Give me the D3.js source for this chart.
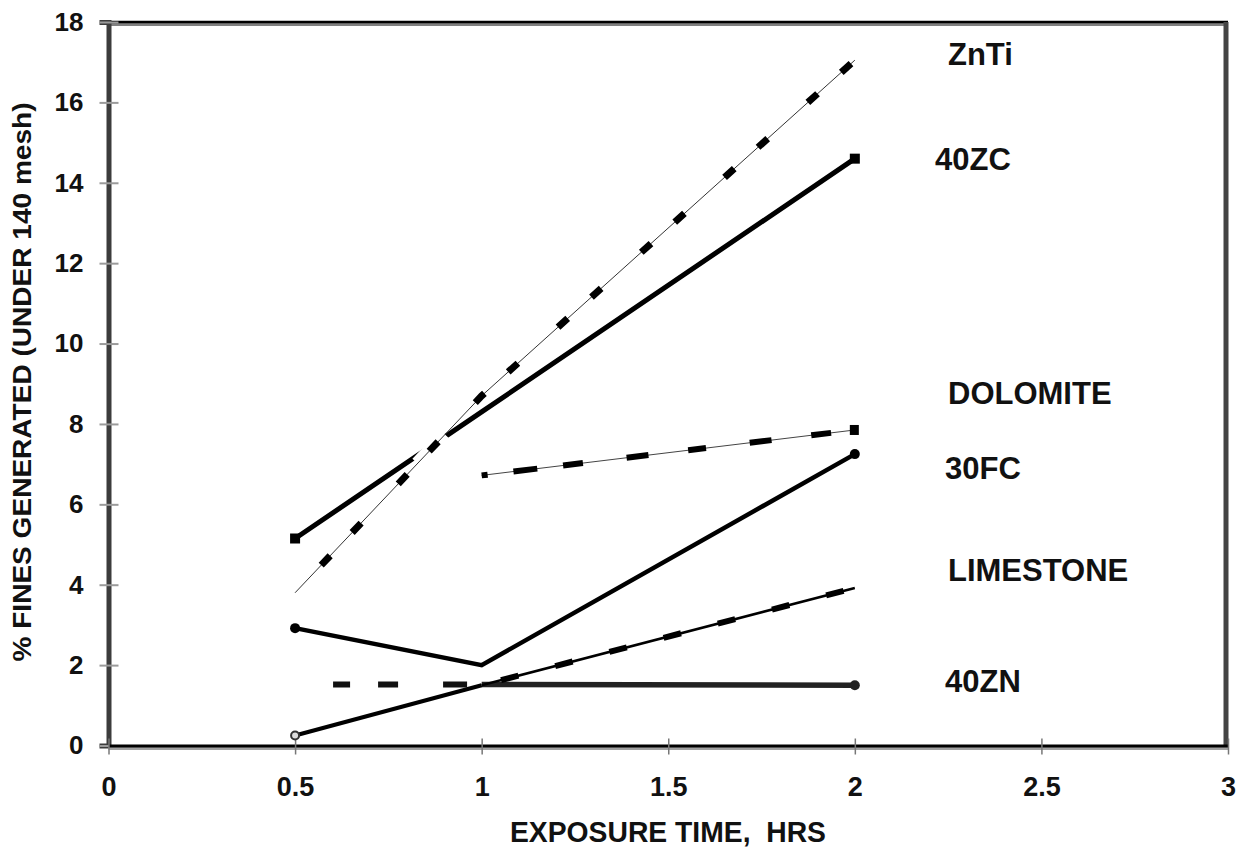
<!DOCTYPE html>
<html>
<head>
<meta charset="utf-8">
<script src="https://cdn.jsdelivr.net/npm/d3@7"></script>
<style>
  body { margin: 0; background: #fff; }
  text { font-family: "Liberation Sans", Arial, sans-serif; fill: #111; }
</style>
</head>
<body>
<script>
// values
var hours = [0.5, 1, 2];
var dolomiteHours = [1, 2];
var znti = [3.8, 8.7, 17.05];
var zc40 = [5.15, 8.3, 14.6];
var dolomite = [6.72, 7.85];
var fc30 = [2.92, 2.0, 7.25];
var limestone = [0.25, 1.5, 3.92];
var zn40 = [1.52, 1.52, 1.5];

var xTicks = [0, 0.5, 1, 1.5, 2, 2.5, 3];
var yTicks = [0, 2, 4, 6, 8, 10, 12, 14, 16, 18];
var seriesNames = ["ZnTi", "40ZC", "DOLOMITE", "30FC", "LIMESTONE", "40ZN"];

var width = 1242, height = 855;

var x = d3.scaleLinear().domain([0, 3]).range([108.5, 1228]);
var y = d3.scaleLinear().domain([0, 18]).range([745.5, 22]);

var svg = d3.select("body").append("svg")
    .attr("width", width)
    .attr("height", height);

var line = d3.line()
    .x(function (d) { return x(d[0]); })
    .y(function (d) { return y(d[1]); });

function pts(xs, ys) { return xs.map(function (v, i) { return [v, ys[i]]; }); }

// frame: top and right border
svg.append("line")
    .attr("x1", x(0)).attr("x2", x(3))
    .attr("y1", y(18) + 2.5).attr("y2", y(18) + 2.5)
    .attr("stroke", "#808080").attr("stroke-width", 3);
svg.append("line")
    .attr("x1", x(0)).attr("x2", x(3))
    .attr("y1", y(18)).attr("y2", y(18))
    .attr("stroke", "#000").attr("stroke-width", 2.5);
svg.append("line")
    .attr("x1", 1226).attr("x2", 1226)
    .attr("y1", y(18)).attr("y2", y(0))
    .attr("stroke", "#444").attr("stroke-width", 5);

// y axis
var yAxis = svg.append("g")
    .attr("transform", "translate(" + x(0) + ",0)")
    .call(d3.axisLeft(y).tickValues(yTicks).tickSize(9).tickPadding(16));
yAxis.select(".domain").attr("stroke", "#3c3c3c").attr("stroke-width", 5);
yAxis.selectAll(".tick line").attr("x1", 10).attr("stroke", "#9a9a9a").attr("stroke-width", 2);
yAxis.selectAll(".tick text")
    .style("font-family", "'Liberation Sans', Arial, sans-serif")
    .style("font-size", "26px").style("font-weight", "bold").attr("fill", "#111");

// x axis
var xAxis = svg.append("g")
    .attr("transform", "translate(0," + y(0) + ")")
    .call(d3.axisBottom(x).tickValues(xTicks).tickSize(9).tickSizeOuter(0).tickPadding(22)
        .tickFormat(function (d) { return String(d); }));
xAxis.select(".domain").attr("stroke", "#000").attr("stroke-width", 3);
xAxis.insert("line", ".domain")
    .attr("x1", x(0)).attr("x2", x(3)).attr("y1", 3).attr("y2", 3)
    .attr("stroke", "#a0a0a0").attr("stroke-width", 3);
xAxis.selectAll(".tick line").attr("y1", -7).attr("stroke", "#777").attr("stroke-width", 1.5);
xAxis.selectAll(".tick text")
    .style("font-family", "'Liberation Sans', Arial, sans-serif")
    .style("font-size", "27px").style("font-weight", "bold").attr("fill", "#111");

// axis titles
svg.append("text")
    .attr("x", 668).attr("y", 842)
    .attr("text-anchor", "middle")
    .style("white-space", "pre")
    .attr("textLength", 316).attr("lengthAdjust", "spacingAndGlyphs")
    .style("font-size", "29px").style("font-weight", "bold")
    .text("EXPOSURE TIME,  HRS");

svg.append("text")
    .attr("transform", "translate(31,382) rotate(-90)")
    .attr("text-anchor", "middle")
    .attr("textLength", 559).attr("lengthAdjust", "spacingAndGlyphs")
    .style("font-size", "26px").style("font-weight", "bold")
    .text("% FINES GENERATED (UNDER 140 mesh)");

var plot = svg.append("g");

// 40ZC solid with squares
var zcPts = pts(hours, zc40);
plot.append("path").datum(zcPts).attr("d", line)
    .attr("fill", "none").attr("stroke", "#000").attr("stroke-width", 5);
plot.selectAll(".zc").data([zcPts[0], zcPts[2]]).enter().append("rect")
    .attr("x", function (d) { return x(d[0]) - 5; })
    .attr("y", function (d) { return y(d[1]) - 5; })
    .attr("width", 10).attr("height", 10).attr("fill", "#000");

// 30FC solid with dots
var fcPts = pts(hours, fc30);
plot.append("path").datum(fcPts).attr("d", line)
    .attr("fill", "none").attr("stroke", "#000").attr("stroke-width", 4.5);
plot.selectAll(".fc").data([fcPts[0], fcPts[2]]).enter().append("circle")
    .attr("cx", function (d) { return x(d[0]); })
    .attr("cy", function (d) { return y(d[1]); })
    .attr("r", 5).attr("fill", "#000");

// 40ZN: dashed to 1 hr, then solid
var znPts = pts(hours, zn40);
plot.append("path").datum(znPts.slice(1)).attr("d", line)
    .attr("fill", "none").attr("stroke", "#222").attr("stroke-width", 5.5);
plot.append("path").datum(znPts.slice(0, 2)).attr("d", line)
    .attr("fill", "none").attr("stroke", "#111").attr("stroke-width", 6)
    .attr("stroke-dasharray", "0,38,17,28,20,45,24,40");
plot.append("circle")
    .attr("cx", x(znPts[2][0])).attr("cy", y(znPts[2][1]))
    .attr("r", 5).attr("fill", "#222");

// LIMESTONE: solid to 1 hr, then thin line with blobs
var limePts = pts(hours, limestone);
plot.append("path").datum(limePts.slice(0, 2)).attr("d", line)
    .attr("fill", "none").attr("stroke", "#000").attr("stroke-width", 4);
plot.append("path").datum(limePts.slice(1)).attr("d", line)
    .attr("fill", "none").attr("stroke", "#000").attr("stroke-width", 2.5);
plot.append("path").datum(limePts.slice(1)).attr("d", line)
    .attr("fill", "none").attr("stroke", "#000").attr("stroke-width", 6)
    .attr("stroke-dasharray", "18,38").attr("stroke-dashoffset", -20);
plot.append("circle")
    .attr("cx", x(limePts[0][0])).attr("cy", y(limePts[0][1]))
    .attr("r", 4).attr("fill", "#ddd").attr("stroke", "#333").attr("stroke-width", 2);

// ZnTi: white halo, thin line, heavy dashes
var zntiPts = pts(hours, znti);
plot.append("path").datum(zntiPts).attr("d", line)
    .attr("fill", "none").attr("stroke", "#fff").attr("stroke-width", 14)
    .attr("stroke-dasharray", "40,500").attr("stroke-dashoffset", -178);
plot.append("path").datum(zntiPts).attr("d", line)
    .attr("fill", "none").attr("stroke", "#333").attr("stroke-width", 1);
plot.append("path").datum(zntiPts).attr("d", line)
    .attr("fill", "none").attr("stroke", "#000").attr("stroke-width", 7)
    .attr("stroke-dasharray", "13,32,13,54").attr("stroke-dashoffset", -38);

// DOLOMITE: thin line, heavy dashes, square at end
var dolPts = pts(dolomiteHours, dolomite);
plot.append("path").datum(dolPts).attr("d", line)
    .attr("fill", "none").attr("stroke", "#444").attr("stroke-width", 1);
plot.append("path").datum(dolPts).attr("d", line)
    .attr("fill", "none").attr("stroke", "#000").attr("stroke-width", 6)
    .attr("stroke-dasharray", "6,26,24,26,20,44,22,40,18,44,22,40,20,40");
plot.append("rect")
    .attr("x", x(dolPts[1][0]) - 5).attr("y", y(dolPts[1][1]) - 5)
    .attr("width", 9).attr("height", 10).attr("fill", "#000");

// series labels
var labelY = [16.93, 14.32, 8.5, 6.62, 4.1, 1.33];
var labelX = [948, 935, 948, 945, 948, 945];
svg.selectAll(".series-label").data(seriesNames).enter().append("text")
    .attr("class", "series-label")
    .attr("x", function (d, i) { return labelX[i]; })
    .attr("y", function (d, i) { return y(labelY[i]); })
    .style("font-size", "31px").style("font-weight", "bold")
    .text(function (d) { return d; });
</script>
</body>
</html>
